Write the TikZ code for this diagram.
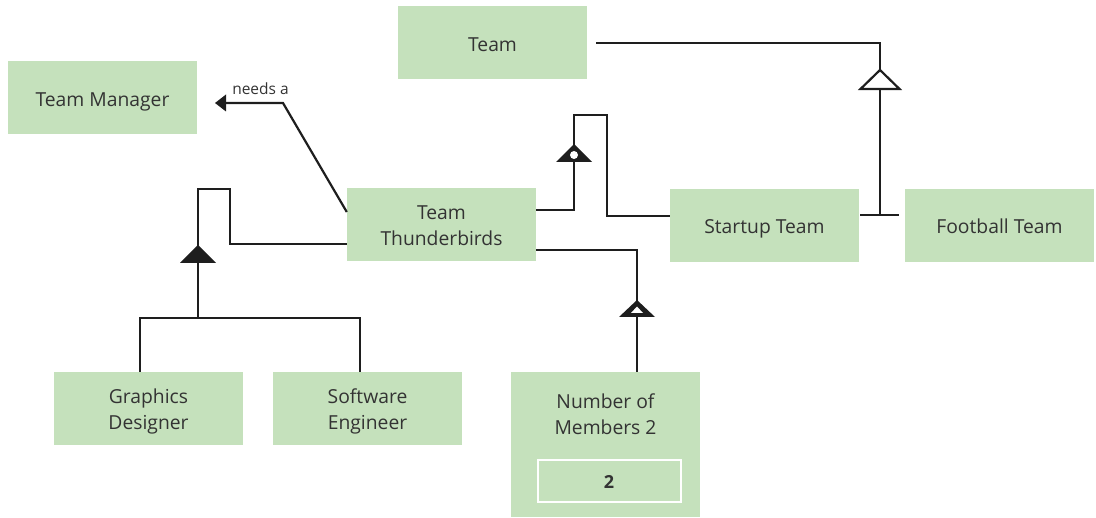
\documentclass[tikz,border=0pt]{standalone}
\usepackage{fontspec}
\setmainfont{Open Sans}
\begin{document}
\begin{tikzpicture}[x=1pt,y=-1pt,
  boxfont/.style={text=textgray, font=\fontsize{19.3}{26}\selectfont},
  box/.style={boxfont, fill=boxgreen, minimum width=189pt, minimum height=73pt, inner sep=0pt, align=center, text height=21pt, text depth=4pt},
  twoline/.style={text height=46pt, text depth=4pt},
  conn/.style={draw=linegray, line width=2.2pt},
  ]
\definecolor{boxgreen}{HTML}{C5E1BC}
\definecolor{textgray}{HTML}{333333}
\definecolor{linegray}{HTML}{1E1E1E}
\useasboundingbox (0,0) rectangle (1096,518);

\node[box] (team) at (492.5,43) {Team};
\node[box] (mgr) at (102.5,98) {Team Manager};
\node[box, twoline] (tb) at (441.5,225) {Team\\Thunderbirds};
\node[box] (su) at (764.5,225.5) {Startup Team};
\node[box] (ft) at (999.5,225.5) {Football Team};
\node[box, twoline] (gd) at (148.5,408.5) {Graphics\\Designer};
\node[box, twoline] (se) at (367.5,408.5) {Software\\Engineer};
\node[box, minimum height=145pt] (nm) at (605.5,444.5) {};
\node[boxfont, align=center, inner sep=0pt, text height=46pt, text depth=4pt] (nmt) at (605.5,414) {Number of\\Members 2};
\node[draw=white, line width=2pt, minimum width=143pt, minimum height=42pt, inner sep=0pt, text=textgray, font=\bfseries\fontsize{18}{22}\selectfont] (val) at (609,481.5) {2};

% needs a
\coordinate (na) at (283,103);
\coordinate (natip) at (215,103);
\draw[conn] ([yshift=13pt]tb.west) -- (na) -- (225,103);
\fill[linegray] (natip) -- (226,94.5) -- (226,111.5) -- cycle;
\node[text=textgray, font=\fontsize{15.5}{17}\selectfont, anchor=base] (nal) at (260.5,95) {needs a};

% left generalization
\coordinate (l1) at (230,244);
\coordinate (l2) at (230,189);
\coordinate (l3) at (198,189);
\coordinate (l4) at (198,318);
\draw[conn] (tb.west |- l1) -- (l1) -- (l2) -- (l3) -- (l4);
\coordinate (g1) at (140,318);
\coordinate (g2) at (360,318);
\draw[conn] (gd.north -| g1) -- (g1) -- (g2) -- (se.north -| g2);
\fill[linegray] (198,245) -- (216,263) -- (180,263) -- cycle;

% startup composition
\coordinate (s1) at (574,210);
\coordinate (s2) at (574,115);
\coordinate (s3) at (607,115);
\coordinate (s4) at (607,216);
\draw[conn] (tb.east |- s1) -- (s1) -- (s2) -- (s3) -- (s4) -- (su.west |- s4);
\fill[linegray] (574,144) -- (592,162) -- (556,162) -- cycle;
\fill[white] (574,155) circle (4pt);

% number of members
\coordinate (m1) at (637,250);
\draw[conn] (tb.east |- m1) -- (m1) -- (nm.north -| m1);
\fill[linegray] (637,300) -- (655,317) -- (619,317) -- cycle;
\fill[white] (637,306.5) -- (643,313) -- (631,313) -- cycle;

% team generalization
\coordinate (t1) at (880,43);
\coordinate (t2) at (880,215);
\draw[conn] ([xshift=9pt]team.east) -- (t1) -- (t2);
\draw[conn] (860,215) -- (899,215);
\filldraw[fill=white, draw=linegray, line width=2.2pt] (880,70) -- (899.5,89) -- (860.5,89) -- cycle;
\end{tikzpicture}
\end{document}
